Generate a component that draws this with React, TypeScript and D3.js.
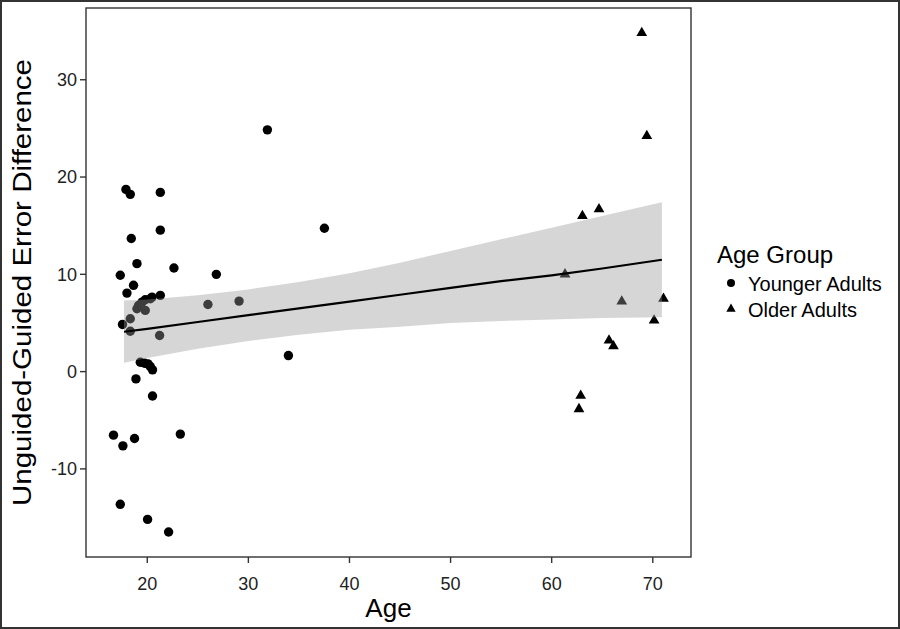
import * as d3 from 'd3'

// Younger adults (circles)
const youngAge = [
  16.66, 17.33, 17.59, 17.33, 17.55, 17.89, 18.32, 17.99, 18.42, 18.64,
  18.32, 18.32, 18.98, 18.98, 19.14, 19.48, 19.8, 20.3, 19.8, 19.31,
  19.73, 20.07, 20.3, 20.52, 18.88, 18.74, 20.52, 20.03, 22.11, 23.27,
  21.29, 21.29, 22.64, 20.47, 21.29, 21.22, 26.0, 26.83, 29.08, 31.88,
  33.96, 37.52,
]
const youngDiff = [
  -6.53, -13.64, -7.63, 9.9, 4.85, 18.73, 18.22, 8.07, 13.68, 8.87,
  5.43, 4.15, 11.1, 6.46, 6.8, 7.14, 7.39, 7.49, 6.29, 0.96,
  0.86, 0.79, 0.52, 0.18, -0.75, -6.88, -2.51, -15.19, -16.49, -6.42,
  18.42, 14.54, 10.65, 7.66, 7.84, 3.71, 6.9, 10.0, 7.25, 24.85,
  1.65, 14.74,
]

// Older adults (triangles)
const oldAge = [68.91, 69.41, 63.04, 64.68, 61.32, 66.93, 71.06, 70.13, 65.67, 66.11, 62.87, 62.7]
const oldDiff = [34.81, 24.23, 16.01, 16.7, 10.0, 7.22, 7.49, 5.26, 3.2, 2.61, -2.47, -3.85]

// linear fit with 95% band
const fitAge = [17.7, 20, 25, 30, 35, 40, 45, 50, 55, 60, 65, 70.9]
const fitValue = [4.1, 4.4, 5.1, 5.8, 6.5, 7.2, 7.9, 8.6, 9.3, 9.9, 10.6, 11.5]
const fitUpper = [7.3, 7.4, 7.85, 8.45, 9.2, 10.1, 11.2, 12.4, 13.6, 14.8, 16.0, 17.4]
const fitLower = [0.9, 1.4, 2.35, 3.15, 3.8, 4.3, 4.6, 5.0, 5.2, 5.35, 5.5, 5.6]

const xTicks = [20, 30, 40, 50, 60, 70]
const yTicks = [-10, 0, 10, 20, 30]

const W = 900
const H = 629
const margin = { top: 8, right: 209, bottom: 72, left: 86 }
const font = "'Liberation Sans', Arial, sans-serif"

// ggplot style 5% expansion of the data range
function expand(vals: number[]): [number, number] {
  const [lo, hi] = d3.extent(vals) as [number, number]
  const pad = (hi - lo) * 0.05
  return [lo - pad, hi + pad]
}

export default function App() {
  const x = d3.scaleLinear()
    .domain(expand([...youngAge, ...oldAge]))
    .range([margin.left, W - margin.right])
  const y = d3.scaleLinear()
    .domain(expand([...youngDiff, ...oldDiff]))
    .range([H - margin.bottom, margin.top])

  const band = d3.area<number>()
    .x((_, i) => x(fitAge[i]))
    .y0((_, i) => y(fitLower[i]))
    .y1((d) => y(d))(fitUpper)
  const line = d3.line<number>()
    .x((_, i) => x(fitAge[i]))
    .y((d) => y(d))(fitValue)

  const tri = d3.symbol(d3.symbolTriangle, 50)() as string
  const x0 = margin.left
  const x1 = W - margin.right
  const y0 = H - margin.bottom
  const y1 = margin.top

  return (
    <div style={{ position: 'fixed', left: 0, top: 0 }}>
      <svg width={W} height={H} style={{ display: 'block', background: '#fff' }} fontFamily={font}>
        <rect x={1} y={1} width={W - 2} height={H - 2} fill="#fff" stroke="#333" strokeWidth={2} />

        {/* points first, the band sits on top of them */}
        {youngAge.map((a, i) => (
          <circle key={'y' + i} cx={x(a)} cy={y(youngDiff[i])} r={4.7} fill="#000" />
        ))}
        {oldAge.map((a, i) => (
          <path key={'o' + i} d={tri} transform={`translate(${x(a)},${y(oldDiff[i])})`} fill="#000" />
        ))}

        <path d={band ?? ''} fill="#999999" fillOpacity={0.4} />
        <path d={line ?? ''} fill="none" stroke="#000" strokeWidth={2.2} />

        <rect x={x0} y={y1} width={x1 - x0} height={y0 - y1} fill="none" stroke="#333" strokeWidth={1.4} />

        {/* x axis */}
        {xTicks.map((t) => (
          <g key={'xt' + t}>
            <line x1={x(t)} x2={x(t)} y1={y0} y2={y0 + 6} stroke="#333" strokeWidth={1.4} />
            <text x={x(t)} y={y0 + 33} textAnchor="middle" fontSize={18} fill="#222">{t}</text>
          </g>
        ))}
        <text x={(x0 + x1) / 2} y={617} textAnchor="middle" fontSize={26} fill="#000">Age</text>

        {/* y axis */}
        {yTicks.map((t) => (
          <g key={'yt' + t}>
            <line x1={x0 - 6} x2={x0} y1={y(t)} y2={y(t)} stroke="#333" strokeWidth={1.4} />
            <text x={x0 - 9} y={y(t)} dy="0.35em" textAnchor="end" fontSize={18} fill="#222">{t}</text>
          </g>
        ))}
        <text
          transform={`translate(31,${(y0 + y1) / 2}) rotate(-90)`}
          textAnchor="middle"
          fontSize={26}
          textLength={447}
          lengthAdjust="spacingAndGlyphs"
          fill="#000"
        >
          Unguided-Guided Error Difference
        </text>

        {/* legend */}
        <text x={717} y={263} fontSize={24} fill="#000">Age Group</text>
        <circle cx={731} cy={283} r={4} fill="#000" />
        <text x={748} y={291} fontSize={20} fill="#000">Younger Adults</text>
        <path d={d3.symbol(d3.symbolTriangle, 38)() as string} transform="translate(731,309)" fill="#000" />
        <text x={748} y={317} fontSize={20} fill="#000">Older Adults</text>
      </svg>
    </div>
  )
}
